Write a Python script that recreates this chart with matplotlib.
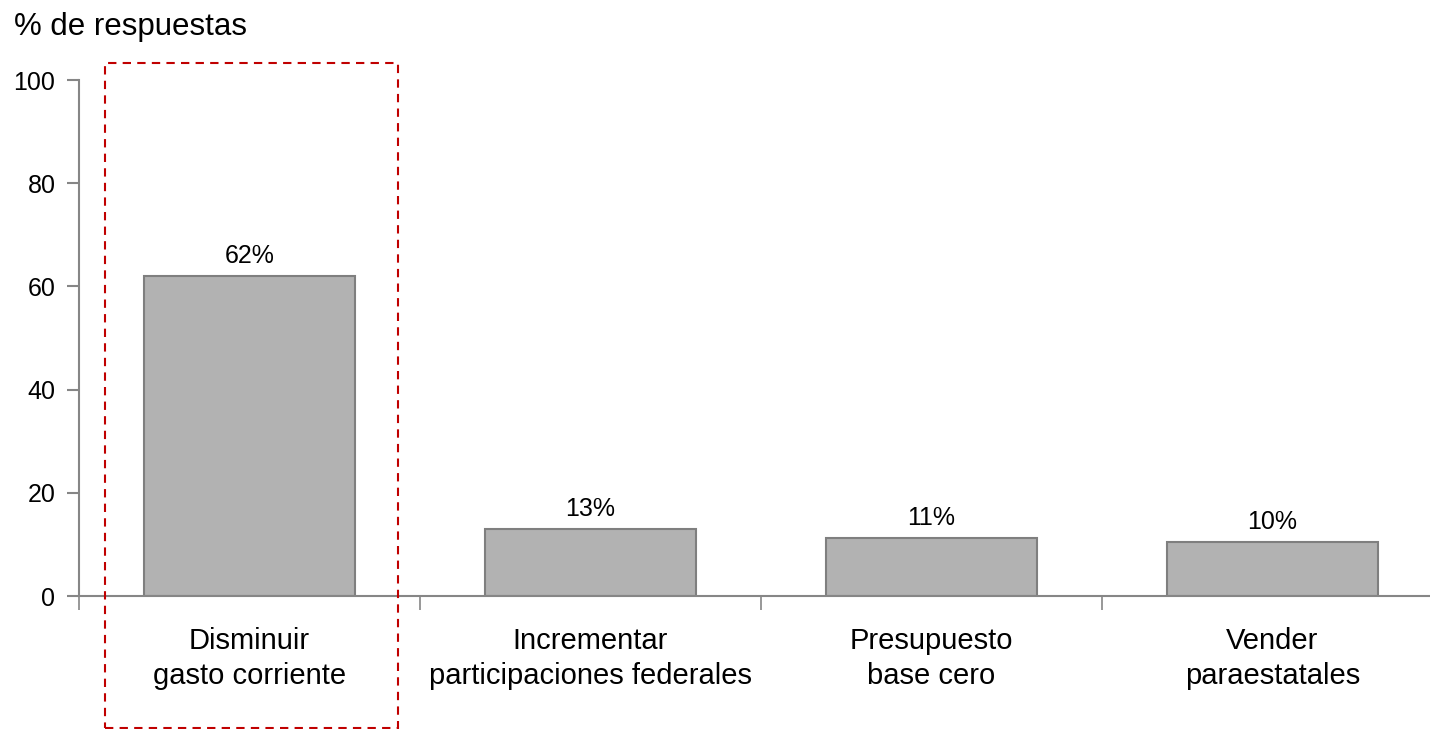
import matplotlib.pyplot as plt
from matplotlib.patches import Rectangle

plt.rcParams['font.family'] = ['Liberation Sans', 'DejaVu Sans']

# --- data ---
categories = ["Disminuir\ngasto corriente", "Incrementar\nparticipaciones federales",
              "Presupuesto\nbase cero", "Vender\nparaestatales"]
values = [62, 13, 11.2, 10.4]
labels = ["62%", "13%", "11%", "10%"]

axis_gray = "#868686"

fig = plt.figure(figsize=(14.3, 7.29), dpi=100)
# axes run a little past the right edge of the figure, as in the original
ax = fig.add_axes([79 / 1430, 1 - 596 / 729, 1364 / 1430, (596 - 80) / 729])

x = range(len(categories))
ax.bar(x, values, width=0.62, color="#b2b2b2", edgecolor="#7f7f7f", linewidth=1.5, zorder=2)

for xi, v, lab in zip(x, values, labels):
    ax.text(xi, v + 1.6, lab, ha="center", va="bottom", fontsize=18)

ax.set_xlim(-0.5, len(categories) - 0.5)
ax.set_ylim(0, 100)
ax.set_yticks([0, 20, 40, 60, 80, 100])
ax.tick_params(axis="y", labelsize=18, length=9, width=1.5, color=axis_gray, pad=8)

# category ticks at the boundaries, labels centred under bars
ax.set_xticks([i - 0.5 for i in range(len(categories))])
ax.set_xticklabels([])
ax.tick_params(axis="x", length=10, width=1.2, color=axis_gray)
for xi, cat in zip(x, categories):
    ax.text(xi, -6.0, cat, ha="center", va="top", fontsize=21, linespacing=1.3)

for side in ["top", "right"]:
    ax.spines[side].set_visible(False)
for side in ["left", "bottom"]:
    ax.spines[side].set_color(axis_gray)
    ax.spines[side].set_linewidth(1.5)

# highlight box round the first category
box = Rectangle((-0.424, -25.6), 0.859, 128.9, fill=False, edgecolor="#c00000",
                linestyle=(0, (4, 3)), linewidth=1.5, clip_on=False, zorder=3)
ax.add_patch(box)

fig.text(14 / 1430, 1 - 35 / 729, "% de respuestas", ha="left", va="baseline", fontsize=22.5)

plt.savefig("out.png", dpi=100)
